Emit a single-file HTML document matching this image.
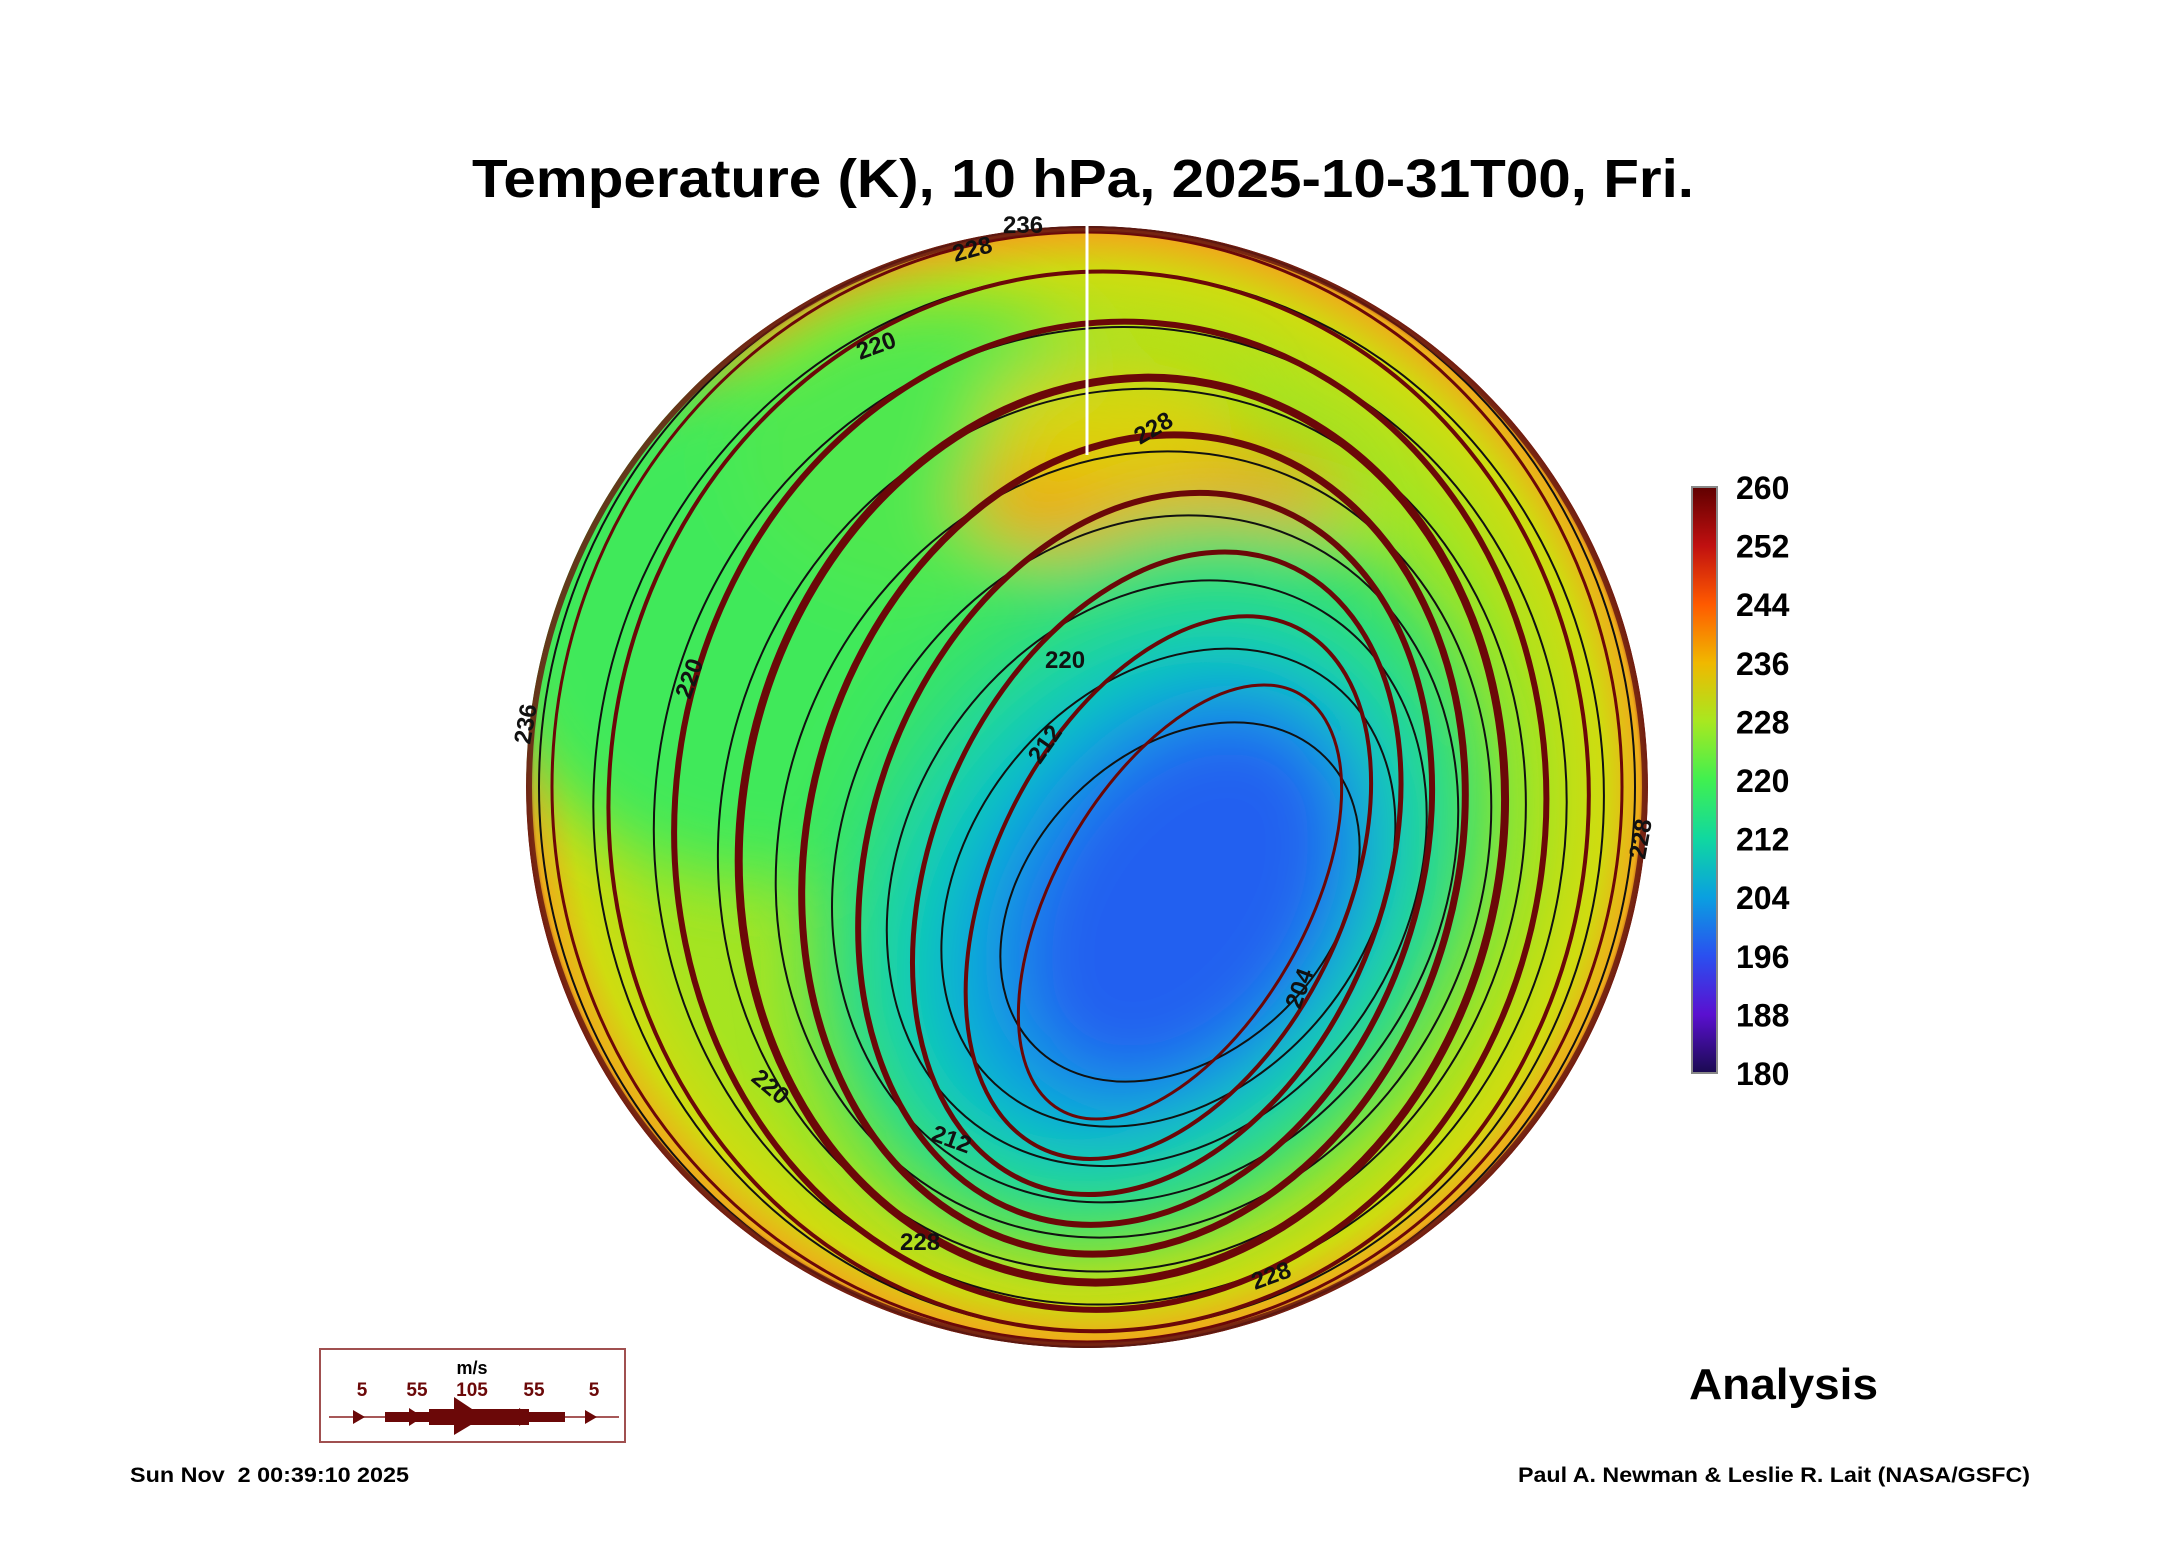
<!DOCTYPE html>
<html><head><meta charset="utf-8"><style>
html,body{margin:0;padding:0;background:#fff;}
svg{display:block;font-family:"Liberation Sans",Arial,sans-serif;}
</style></head><body>
<svg id="chart" width="2165" height="1561" viewBox="0 0 2165 1561">
<defs>
  <clipPath id="disk"><circle cx="1087" cy="787" r="561"/></clipPath>
  <filter id="blur" x="-20%" y="-20%" width="140%" height="140%"><feGaussianBlur stdDeviation="35"/></filter>
  <radialGradient id="baseGrad" cx="0.5" cy="0.5" r="0.5">
    <stop offset="0" stop-color="#8ee83a"/>
    <stop offset="0.78" stop-color="#a6e420"/>
    <stop offset="0.92" stop-color="#cfdc10"/>
    <stop offset="0.985" stop-color="#eeac1a"/>
    <stop offset="1" stop-color="#a0301a"/>
  </radialGradient>
  <linearGradient id="cbar" x1="0" y1="1" x2="0" y2="0">
    <stop offset="0" stop-color="#1a0a50"/>
    <stop offset="0.1" stop-color="#5a10d0"/>
    <stop offset="0.2" stop-color="#2a50f0"/>
    <stop offset="0.3" stop-color="#0aa0e0"/>
    <stop offset="0.4" stop-color="#10d8a0"/>
    <stop offset="0.5" stop-color="#40f050"/>
    <stop offset="0.6" stop-color="#a8e820"/>
    <stop offset="0.7" stop-color="#f0b800"/>
    <stop offset="0.8" stop-color="#ff5a00"/>
    <stop offset="0.9" stop-color="#c01010"/>
    <stop offset="1" stop-color="#600000"/>
  </linearGradient>
</defs>

<text x="1083" y="197" text-anchor="middle" font-size="54" font-weight="bold" textLength="1222" lengthAdjust="spacingAndGlyphs">Temperature (K), 10 hPa, 2025-10-31T00, Fri.</text>

<g id="map" clip-path="url(#disk)">
  <circle cx="1087" cy="787" r="561" fill="url(#baseGrad)"/>
  <g filter="url(#blur)">
    <ellipse cx="780" cy="620" rx="300" ry="260" fill="#3fe95a"/>
    <ellipse cx="930" cy="450" rx="200" ry="150" fill="#50e850"/>
    <ellipse cx="1150" cy="500" rx="190" ry="60" fill="#f4a400"/>
    <ellipse cx="1110" cy="420" rx="130" ry="60" fill="#d8d410"/>
    <ellipse cx="1150" cy="880" rx="310" ry="390" transform="rotate(35 1150 880)" fill="#30e070"/>
    <ellipse cx="1150" cy="900" rx="250" ry="320" transform="rotate(40 1150 900)" fill="#10cfb0"/>
    <ellipse cx="1160" cy="905" rx="190" ry="260" transform="rotate(38 1160 905)" fill="#0aa0e0"/>
    <ellipse cx="1180" cy="900" rx="140" ry="200" transform="rotate(35 1180 900)" fill="#2060f0"/>
  </g>
  <g id="contours" fill="none" stroke="#111" stroke-width="2"></g>
  <g id="streams" fill="none" stroke="#6b0808"></g>
  <circle cx="1087" cy="787" r="558" fill="none" stroke="#6a1a10" stroke-width="6" opacity="0.85"/>
</g>
<line x1="1087" y1="226" x2="1087" y2="455" stroke="#fff" stroke-width="3"/>
<g font-size="24" font-weight="bold" fill="#111">
  <text x="1003" y="233">236</text><text x="955" y="262" transform="rotate(-15 955 262)">228</text>
  <text x="860" y="360" transform="rotate(-20 860 360)">220</text>
  <text x="1045" y="668">220</text><text x="1040" y="765" transform="rotate(-55 1040 765)">212</text>
  <text x="930" y="1140" transform="rotate(20 930 1140)">212</text><text x="750" y="1080" transform="rotate(40 750 1080)">220</text>
  <text x="900" y="1250">228</text><text x="1255" y="1290" transform="rotate(-20 1255 1290)">228</text>
  <text x="1300" y="1010" transform="rotate(-70 1300 1010)">204</text><text x="1140" y="445" transform="rotate(-30 1140 445)">228</text>
  <text x="690" y="700" transform="rotate(-70 690 700)">220</text><text x="530" y="745" transform="rotate(-80 530 745)">236</text>
  <text x="1645" y="860" transform="rotate(-80 1645 860)">228</text>
</g>

<g id="colorbar">
  <rect x="1692" y="487" width="25" height="586" fill="url(#cbar)" stroke="#888" stroke-width="2"/>
</g>

<g>
  <rect x="320" y="1349" width="305" height="93" fill="#fff" stroke="#a05050" stroke-width="2"/>
  <text x="472" y="1374" text-anchor="middle" font-size="18" font-weight="bold">m/s</text>
  <g font-size="19" font-weight="bold" fill="#6b0808" text-anchor="middle">
    <text x="362" y="1396">5</text><text x="417" y="1396">55</text><text x="472" y="1396">105</text><text x="534" y="1396">55</text><text x="594" y="1396">5</text>
  </g>
  <line x1="329" y1="1417" x2="619" y2="1417" stroke="#8a2020" stroke-width="1.5"/>
  <g fill="#6b0808">
    <rect x="385" y="1412" width="180" height="10"/><rect x="429" y="1409" width="100" height="16"/>
    <polygon points="454,1397 484,1417 454,1435"/>
    <polygon points="353,1410 365,1417 353,1424"/><polygon points="585,1410 597,1417 585,1424"/>
    <polygon points="409,1408 423,1417 409,1426"/><polygon points="519,1408 533,1417 519,1426"/>
  </g>
</g>

<text x="1689" y="1399" font-size="44" font-weight="bold" textLength="189" lengthAdjust="spacingAndGlyphs">Analysis</text>
<text x="130" y="1482" font-size="21" font-weight="bold" textLength="279" lengthAdjust="spacingAndGlyphs" xml:space="preserve">Sun Nov  2 00:39:10 2025</text>
<text x="2030" y="1482" font-size="21" font-weight="bold" text-anchor="end" textLength="512" lengthAdjust="spacingAndGlyphs">Paul A. Newman &amp; Leslie R. Lait (NASA/GSFC)</text>

<script>
const cbTicks = [260, 252, 244, 236, 228, 220, 212, 204, 196, 188, 180];
const streamRx = [125, 175, 225, 275, 325, 380, 435, 490, 535];
const streamRy = [240, 290, 335, 375, 415, 455, 495, 530, 555];
const streamW = [3, 4, 5, 6, 7, 8, 6, 4, 3];
const contourRx = [150, 200, 250, 300, 350, 400, 455, 505, 548];
const contourRy = [205, 262, 310, 355, 400, 445, 490, 530, 560];

const NS = 'http://www.w3.org/2000/svg';
const cb = document.getElementById('colorbar');
const yTop = 487, yBot = 1073;
function cbY(v){ return yBot - (v - 180) / 80 * (yBot - yTop); }
cbTicks.forEach(v => {
  const t = document.createElementNS(NS, 'text');
  
  
  t.setAttribute('x', 1736); t.setAttribute('y', cbY(v) + 12);
  t.setAttribute('font-size', '32'); t.setAttribute('font-weight', 'bold');
  t.textContent = v; cb.appendChild(t);
});
const vx = 1180, vy = 902, dx = 1087, dy = 787;
function ring(g, rxArr, ryArr, i, name, w, angle0) {
  const f = i / (rxArr.length - 1);
  const ex = vx + (dx - vx) * f, ey = vy + (dy - vy) * f;
  const e = document.createElementNS(NS, 'ellipse');
  
  
  e.setAttribute('cx', ex); e.setAttribute('cy', ey);
  e.setAttribute('rx', rxArr[i]); e.setAttribute('ry', ryArr[i]);
  if (w) e.setAttribute('stroke-width', w);
  e.setAttribute('transform', `rotate(${angle0 * (1 - f)} ${ex} ${ey})`);
  g.appendChild(e);
}
const cg = document.getElementById('contours');
contourRx.forEach((rx, i) => ring(cg, contourRx, contourRy, i, 'contour-line', null, 45));
const sg = document.getElementById('streams');
streamRx.forEach((rx, i) => ring(sg, streamRx, streamRy, i, 'streamline', streamW[i], 30));
</script>
</svg>
</body></html>
